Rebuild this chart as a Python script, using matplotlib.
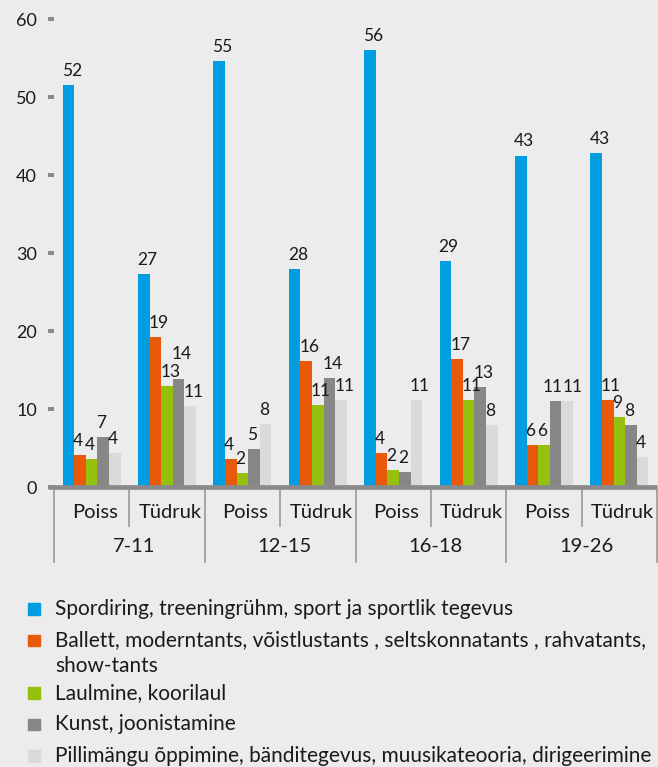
import matplotlib
matplotlib.use("Agg")
import matplotlib.pyplot as plt
from matplotlib.patches import Rectangle
import numpy as np

# ---- data ----
age_groups = ["7-11", "12-15", "16-18", "19-26"]
genders = ["Poiss", "Tüdruk"]
series_names = [
    "Spordiring, treeningrühm, sport ja sportlik tegevus",
    "Ballett, moderntants, võistlustants , seltskonnatants , rahvatants,\nshow-tants",
    "Laulmine, koorilaul",
    "Kunst, joonistamine",
    "Pillimängu õppimine, bänditegevus, muusikateooria, dirigeerimine",
]
# order: 7-11 Poiss, 7-11 Tüdruk, 12-15 Poiss, 12-15 Tüdruk, ...
sport = [51.5, 27.3, 54.6, 28.0, 56.0, 29.0, 42.5, 42.8]
dance = [4.1, 19.2, 3.6, 16.2, 4.3, 16.4, 5.4, 11.1]
singing = [3.6, 12.9, 1.8, 10.5, 2.2, 11.2, 5.4, 9.0]
art = [6.4, 13.8, 4.9, 14.0, 1.9, 12.8, 11.0, 8.0]
music = [4.3, 10.4, 8.1, 11.2, 11.2, 8.0, 11.0, 3.9]

sport_labels = ["52", "27", "55", "28", "56", "29", "43", "43"]
dance_labels = ["4", "19", "4", "16", "4", "17", "6", "11"]
singing_labels = ["4", "13", "2", "11", "2", "11", "6", "9"]
art_labels = ["7", "14", "5", "14", "2", "13", "11", "8"]
music_labels = ["4", "11", "8", "11", "11", "8", "11", "4"]

series_values = [sport, dance, singing, art, music]
series_labels = [sport_labels, dance_labels, singing_labels, art_labels, music_labels]
colors = ["#009ee0", "#e8590c", "#95c00e", "#878787", "#dadada"]
yticks = [0, 10, 20, 30, 40, 50, 60]

# label nudges (dx pixels, extra dy points) to avoid overlaps
nudges = {(3, 1): (0, 8), (3, 6): (-6, 0), (4, 6): (2, 0)}

FONT = "Lato"
plt.rcParams["font.family"] = [FONT, "DejaVu Sans"]
BG = "#ececec"
TXT = "#1a1a1a"
AXC = "#8a8a8a"

W, H = 658, 767
fig = plt.figure(figsize=(W / 100, H / 100), dpi=100, facecolor=BG)
ax = fig.add_axes([54 / W, (H - 487) / H, (657 - 54) / W, (487 - 19) / H])
ax.set_facecolor(BG)

ncat = len(age_groups) * len(genders)
x = np.arange(ncat)
nser = len(series_values)
bw = 0.154
start = (1 - nser * bw) / 2

for s, (vals, labs, col) in enumerate(zip(series_values, series_labels, colors)):
    left = x + start + s * bw
    ax.bar(left, vals, width=bw, align="edge", color=col, edgecolor="none", zorder=2)
    for i, (l, v, t) in enumerate(zip(left, vals, labs)):
        dx, dy = nudges.get((s, i), (0, 0))
        ax.annotate(t, (l, v), xytext=((-1 + dx) * 0.72, 6.5 + dy),
                    textcoords="offset points", ha="left", va="baseline",
                    fontsize=12.5, color=TXT, zorder=3)

ax.set_xlim(0, ncat)
ax.set_ylim(0, 60)
ax.set_yticks(yticks)
ax.set_xticks([])
for sp in ax.spines.values():
    sp.set_visible(False)
ax.tick_params(axis="y", length=4.3, width=2.9, color=AXC, pad=8,
               labelsize=13, labelcolor=TXT, direction="out")

# x axis baseline
ax.plot([-6 / 603, 1.0], [0, 0], transform=ax.transAxes,
        color=AXC, lw=3.4, clip_on=False, zorder=4, solid_capstyle="butt")

# category separators and labels below axis
trans = ax.get_xaxis_transform()
px = 1 / 468  # one pixel in axes-y units
for b in range(ncat + 1):
    bottom = -75 * px if b % 2 == 0 else -39 * px
    ax.plot([b, b], [-3 * px, bottom], transform=trans, color="#9a9a9a",
            lw=1.2, clip_on=False)
for i in range(ncat):
    ax.text(i + 0.5 + 0.04, -25.5 * px, genders[i % 2], transform=trans,
            ha="center", va="center", fontsize=14.5, color=TXT)
for g, name in enumerate(age_groups):
    ax.text(2 * g + 1 + 0.06, -59 * px, name, transform=trans,
            ha="center", va="center", fontsize=14.5, color=TXT)

# legend
yc = 609
for name, col in zip(series_names, colors):
    fig.patches.append(Rectangle((28.3 / W, (H - yc - 5.8) / H), 11.7 / W, 11.7 / H,
                                 transform=fig.transFigure, color=col, figure=fig))
    lines = name.split("\n")
    for k, ln in enumerate(lines):
        fig.text(55 / W, (H - (yc + 6 + 25 * k)) / H, ln, ha="left", va="baseline",
                 fontsize=15, color=TXT)
    yc += 31.5 + 21 * (len(lines) - 1)

fig.savefig("out.png", dpi=100, facecolor=BG)
